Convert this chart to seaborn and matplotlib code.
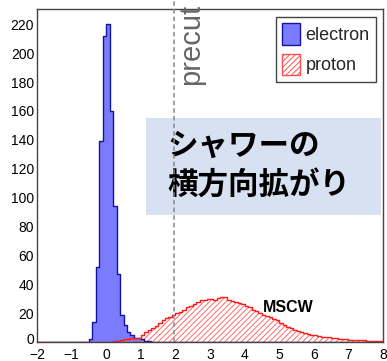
import numpy as np
import pandas as pd
import seaborn as sns
import matplotlib
matplotlib.use("Agg")
import matplotlib.pyplot as plt
import matplotlib.transforms as mtransforms
from matplotlib.patches import Patch, Rectangle
from matplotlib.ticker import MultipleLocator

# ---------------- data (100 bins of width 0.1 from -2 to 8) ----------------
bin_lo, bin_hi, bin_w = -2.0, 8.0, 0.1

electron_counts = [
    0, 0, 0, 0, 0, 0, 0, 0, 0, 0,            # -2 .. -1
    0, 0, 0, 0, 0, 2, 14, 52, 139, 212,      # -1 .. 0
    220, 160, 94, 47, 19, 12, 7, 5, 3, 3,    # 0 .. 1
    2, 1, 1, 0, 0, 0, 0, 0, 0, 0,            # 1 .. 2
    0, 0, 0, 0, 0, 0, 0, 0, 0, 0,            # 2 .. 3
    0, 0, 0, 0, 0, 0, 0, 0, 0, 0,            # 3 .. 4
    0, 0, 0, 0, 0, 0, 0, 0, 0, 0,            # 4 .. 5
    0, 0, 0, 0, 0, 0, 0, 0, 0, 0,            # 5 .. 6
    0, 0, 0, 0, 0, 0, 0, 0, 0, 0,            # 6 .. 7
    0, 0, 0, 0, 0, 0, 0, 0, 0, 0,            # 7 .. 8
]

proton_counts = [
    0, 0, 0, 0, 0, 0, 0, 0, 0, 0,                              # -2 .. -1
    0, 0, 0, 0, 0, 0, 0, 0, 0, 0,                              # -1 .. 0
    0, 0.3, 0.6, 1, 1.3, 1.8, 2.2, 2.6, 3, 2.8,                # 0 .. 1
    5, 7, 8.5, 9.5, 11, 13, 15, 16.5, 17.5, 18.5,              # 1 .. 2
    20, 21, 22.5, 24, 25, 26.5, 28, 28.8, 29, 29.5,            # 2 .. 3
    29.6, 29, 30.5, 31.2, 31.4, 28.8, 28.4, 28, 27, 26,        # 3 .. 4
    25, 24, 22.5, 21.5, 20, 19, 18, 17, 16, 15,                # 4 .. 5
    13.5, 12, 10.5, 9.5, 8.5, 7.5, 6.8, 6, 5.2, 4.8,           # 5 .. 6
    4.6, 4, 3.7, 3.4, 3.2, 2.8, 2.5, 2.1, 1.9, 1.8,            # 6 .. 7
    1.6, 1.4, 1.3, 1.2, 1.1, 0.9, 0.8, 0.7, 0.7, 0.6,          # 7 .. 8
]

legend_labels = ["electron", "proton"]
precut_value = 1.95
title_lines = ["シャワーの", "横方向拡がり"]
var_label = "MSCW"

n_bins = len(electron_counts)
centers = bin_lo + bin_w * (np.arange(n_bins) + 0.5)
df = pd.DataFrame({"x": centers, "electron": electron_counts, "proton": proton_counts})

# ---------------- figure ----------------
sns.set_style("white")
plt.rcParams["font.family"] = ["Liberation Sans", "DejaVu Sans"]
plt.rcParams["hatch.linewidth"] = 0.7

fig = plt.figure(figsize=(3.87, 3.61), dpi=100)
ax = fig.add_axes([37 / 387, 1 - 342 / 361, 346 / 387, 333 / 361])

blue_fill = "#7b7bff"
blue_edge = "#14149a"
red = "#ff1a1a"
hatch_col = "#ff6a6a"
hist_kw = dict(x="x", binwidth=bin_w, binrange=(bin_lo, bin_hi), element="step", ax=ax)

sns.histplot(data=df, weights="electron", fill=True, color=blue_fill, alpha=1,
             linewidth=0, **hist_kw)
sns.histplot(data=df, weights="electron", fill=False, color=blue_edge,
             linewidth=1.0, **hist_kw)
sns.histplot(data=df, weights="proton", fill=True, color=hatch_col, alpha=1,
             linewidth=0, **hist_kw)
pc = ax.collections[-1]
pc.set_facecolor("none")
pc.set_edgecolor(hatch_col)
pc.set_hatch("//////")
sns.histplot(data=df, weights="proton", fill=False, color=red, linewidth=1.0,
             **hist_kw)

ax.set_xlim(bin_lo, bin_hi)
ax.set_ylim(0, 230.6)
ax.set_xlabel("")
ax.set_ylabel("")

# ticks
ax.xaxis.set_major_locator(MultipleLocator(1))
ax.xaxis.set_minor_locator(MultipleLocator(0.2))
ax.yaxis.set_major_locator(MultipleLocator(20))
ax.yaxis.set_minor_locator(MultipleLocator(5))
ax.tick_params(axis="both", which="both", direction="in", colors="#333333",
               top=False, right=False, labelsize=10, labelcolor="black")
ax.tick_params(axis="x", which="major", length=7.5, width=0.8, pad=4.5)
ax.tick_params(axis="x", which="minor", length=3.8, width=0.8)
ax.tick_params(axis="y", which="major", length=8, width=0.8, pad=2)
ax.tick_params(axis="y", which="minor", length=4, width=0.8)
for s in ax.spines.values():
    s.set_color("#444444")
    s.set_linewidth(1.0)

# annotation box
ax.add_patch(Rectangle((0.315, 0.381), 0.679, 0.292, transform=ax.transAxes,
                       facecolor="#d8e1f2", edgecolor="none", zorder=3))
for i, line in enumerate(title_lines):
    ax.text(0.376, [0.589, 0.472][i], line, transform=ax.transAxes,
            ha="left", va="center", fontsize=22, fontweight="bold",
            family=["Noto Sans CJK JP", "DejaVu Sans"], color="black", zorder=4)

# precut line + label
ax.axvline(precut_value, ymin=0, ymax=1.027, color="#888888", linewidth=1.1,
           dashes=(3, 2), clip_on=False, zorder=5)
ax.text(2.45, 1.015, "precut", transform=ax.get_xaxis_transform(), rotation=90,
        ha="center", va="top", fontsize=21, color="#666666", clip_on=False)

# MSCW label
ax.text(4.54, 24.2, var_label, ha="left", va="center", fontsize=11.5,
        fontweight="bold", color="black")

# legend
handles = [Patch(facecolor=blue_fill, edgecolor=blue_edge, linewidth=1),
           Patch(facecolor="white", edgecolor="#ff5050", hatch="//////", linewidth=1)]
leg = ax.legend(handles, legend_labels, loc="upper right",
                bbox_to_anchor=(0.98, 0.976), borderaxespad=0, fontsize=13,
                fancybox=False, framealpha=1, edgecolor="#444444",
                handlelength=1.0, handleheight=1.45, handletextpad=0.3,
                labelspacing=0.5, borderpad=0.35)
leg.get_frame().set_linewidth(1.0)
leg.set_zorder(6)

# nudge the "0" y label up slightly so it does not collide with "−2"
fig.canvas.draw()
for t in ax.yaxis.get_major_ticks():
    if abs(t.get_loc()) < 1e-9:
        t.label1.set_transform(t.label1.get_transform()
                               + mtransforms.ScaledTranslation(0, 3 / 100, fig.dpi_scale_trans))

fig.savefig("out.png", dpi=100)
